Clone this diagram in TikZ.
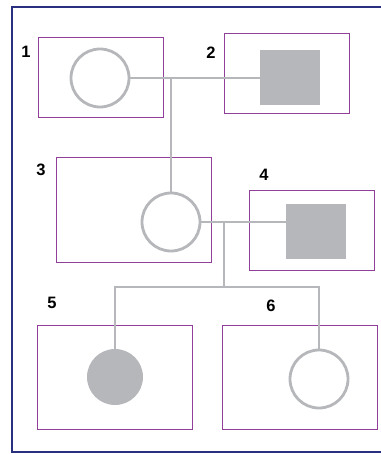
\documentclass[tikz,border=0pt]{standalone}
\usepackage{fontspec}
\setmainfont{Liberation Sans}
\usetikzlibrary{math}
\definecolor{myframe}{RGB}{43,47,127}
\definecolor{mybox}{RGB}{146,62,155}
\definecolor{mygray}{RGB}{182,183,186}
\tikzset{
  panel/.style={draw=mybox, line width=1, minimum width=#1},
  female/.style={circle, draw=mygray, line width=2.8, minimum size=58, inner sep=0},
  affected/.style={circle, fill=mygray, minimum size=56, inner sep=0},
  male/.style={fill=mygray, minimum width=60, minimum height=55, inner sep=0},
  kin/.style={draw=mygray, line width=2.8},
  num/.style={font=\bfseries\fontsize{16.5}{16.5}\selectfont, inner sep=0}
}
\begin{document}
\begin{tikzpicture}[x=1pt,y=-1pt]
\tikzmath{
\W=125;%small panel
\H=80;
\Wb=155;%big panel
\Hb=104;
}
\useasboundingbox (0,0) rectangle (380,454);
\draw[myframe, line width=2] (381,7) -| (12,452) -- (381,452);

% panels
\node[panel=\W, minimum height=\H] (p1) at (100.5,78) {};
\node[panel=\W, minimum height=\H] (p2) at (286.5,74) {};
\node[panel=\Wb, minimum height=\Hb] (p3) at (134,210) {};
\node[panel=\W, minimum height=\H] (p4) at (311.5,230) {};
\node[panel=\Wb, minimum height=\Hb] (p5) at (115,377) {};
\node[panel=\Wb, minimum height=\Hb] (p6) at (300,377) {};

% numbers
\node[num] (n1) at (26,52) {1};
\node[num] (n2) at (211,53) {2};
\node[num] (n3) at (41,170) {3};
\node[num] (n4) at (264,175) {4};
\node[num] (n5) at (52,303) {5};
\node[num] (n6) at (271,306) {6};

% persons
\node[female] (c1) at (100,78) {};
\node[male] (s2) at (290,77.5) {};
\node[female] (c3) at (171,222) {};
\node[male] (s4) at (316,231.5) {};
\node[affected] (c5) at (115,377) {};
\node[female] (c6) at (319,379) {};

% kinship lines
\draw[kin] (c1.east) -- (c1.east -| s2.west);
\coordinate (m12) at (c1.east -| c3.north);
\draw[kin] (m12) -- (c3.north);
\draw[kin] (c3.east) -- (c3.east -| s4.west);
\coordinate (m34) at (224,222);
\coordinate (sib) at (224,287);
\draw[kin] (m34) -- (sib);
\draw[kin] (c5.north) |- (sib) -| (c6.north);
\end{tikzpicture}
\end{document}
